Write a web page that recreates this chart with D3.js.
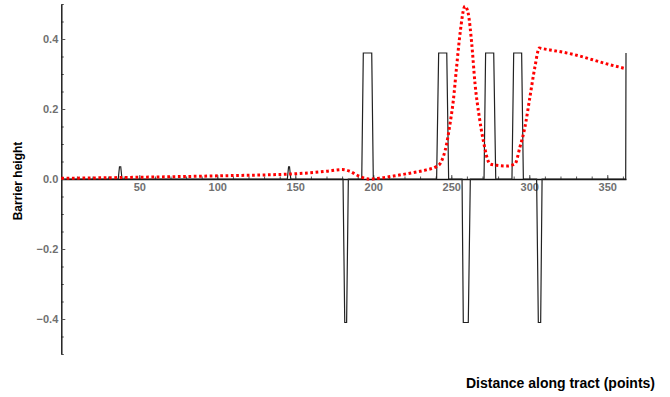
<!DOCTYPE html>
<html>
<head>
<meta charset="utf-8">
<script src="https://cdn.jsdelivr.net/npm/d3@7"></script>
<style>
  body { margin: 0; background: #fff; }
  .tick text { font-family: "Liberation Sans", Arial, sans-serif; font-weight: bold; font-size: 11px; fill: #707070; }
  .axis-title { font-family: "Liberation Sans", Arial, sans-serif; font-weight: bold; fill: #000; }
</style>
</head>
<body>
<div id="chart"></div>
<script>
// Barrier profile (black line): distance along tract, barrier height
const barrierX = [0, 36.5, 37.3, 38.1, 38.9,
  144.9, 145.7, 146.3, 147.1,
  180.6, 181.7, 182.9, 184,
  192.6, 193.6, 199, 200,
  240.6, 241.9, 247.1, 248.3,
  256.9, 257.7, 260.9, 262.2,
  271, 272, 277.2, 278.5,
  288.9, 290, 295.1, 296.2,
  304.7, 305.8, 307.3, 308.2,
  361.8, 362];
const barrierY = [0, 0, 0.035, 0.035, 0,
  0, 0.035, 0.035, 0,
  0, -0.41, -0.41, 0,
  0, 0.36, 0.36, 0,
  0, 0.36, 0.36, 0,
  0, -0.41, -0.41, 0,
  0, 0.36, 0.36, 0,
  0, 0.36, 0.36, 0,
  0, -0.41, -0.41, 0,
  0, 0.36];

// Smoothed fit (red dotted line)
const fitX = [0, 20, 50, 100, 150, 170, 180, 185, 190, 197, 205, 215, 225, 234, 240.6,
  243, 247, 249.2, 251.3, 253.4, 255.6, 258.8, 260.9, 263.1, 265.2, 268, 270.5,
  274.8, 279.1, 285.5, 290.8, 294, 297.2, 300.4, 303.6, 306.4, 309, 328.2, 349.6, 362];
const fitY = [0.002, 0.003, 0.005, 0.009, 0.015, 0.022, 0.027, 0.022, 0.01, 0.0, 0.003, 0.01, 0.018, 0.026, 0.036,
  0.045, 0.1, 0.158, 0.224, 0.32, 0.415, 0.494, 0.472, 0.387, 0.273, 0.176, 0.11,
  0.043, 0.039, 0.037, 0.043, 0.091, 0.148, 0.234, 0.32, 0.374, 0.372, 0.356, 0.329, 0.315];

// Tick values
const xTicks = [50, 100, 150, 200, 250, 300, 350];
const xMinorTicks = d3.range(0, 361, 10);
const yTicks = [-0.4, -0.2, 0, 0.2, 0.4];
const yMinorTicks = d3.range(-0.5, 0.51, 0.05);

const width = 670, height = 397;
const margin = { top: 4, right: 44, bottom: 43, left: 61.3 };
const innerW = width - margin.left - margin.right;
const innerH = height - margin.top - margin.bottom;

const svg = d3.select("#chart")
  .append("svg")
  .attr("width", width)
  .attr("height", height);

const g = svg.append("g")
  .attr("transform", `translate(${margin.left},${margin.top})`);

// Scales
const x = d3.scaleLinear().domain([0, 362]).range([0, innerW]);
const y = d3.scaleLinear().domain([-0.5, 0.5]).range([innerH, 0]);

const fmt = d => d === 0 ? "0.0" : d3.format(".1f")(d).replace("-", "\u2212");

// Minor ticks (inward)
g.append("g")
  .attr("transform", `translate(0,${y(0)})`)
  .call(d3.axisBottom(x).tickValues(xMinorTicks).tickSize(-2.5).tickFormat(""))
  .call(a => a.select(".domain").remove())
  .call(a => a.selectAll("line").attr("stroke", "#555"));

g.append("g")
  .call(d3.axisLeft(y).tickValues(yMinorTicks).tickSize(-2.5).tickFormat(""))
  .call(a => a.select(".domain").remove())
  .call(a => a.selectAll("line").attr("stroke", "#555"));

// X axis through zero
const xAxisG = g.append("g")
  .attr("transform", `translate(0,${y(0)})`)
  .call(d3.axisBottom(x).tickValues(xTicks).tickSizeInner(-4).tickSizeOuter(0).tickPadding(4).tickFormat(d3.format("d")));
xAxisG.select(".domain").attr("stroke", "#111").attr("stroke-width", 1.4);
xAxisG.selectAll(".tick line").attr("stroke", "#555");

// Y axis
const yAxisG = g.append("g")
  .call(d3.axisLeft(y).tickValues(yTicks).tickSizeInner(-4).tickSizeOuter(0).tickPadding(3).tickFormat(fmt));
yAxisG.select(".domain").attr("stroke", "#111").attr("stroke-width", 1.4);
yAxisG.selectAll(".tick line").attr("stroke", "#555");

// Barrier line
const barrier = barrierX.map((d, i) => [d, barrierY[i]]);
g.append("path")
  .datum(barrier)
  .attr("fill", "none")
  .attr("stroke", "#222")
  .attr("stroke-width", 1.2)
  .attr("d", d3.line().x(d => x(d[0])).y(d => y(d[1])));

// Fit line
const fit = fitX.map((d, i) => [d, fitY[i]]);
g.append("path")
  .datum(fit)
  .attr("fill", "none")
  .attr("stroke", "#ff0000")
  .attr("stroke-width", 3)
  .attr("stroke-dasharray", "2.7,2.6")
  .attr("d", d3.line().curve(d3.curveMonotoneX).x(d => x(d[0])).y(d => y(d[1])));

// Axis titles
svg.append("text")
  .attr("class", "axis-title")
  .attr("font-size", "12px")
  .attr("text-anchor", "middle")
  .attr("transform", `translate(22,${margin.top + innerH / 2 + 2}) rotate(-90)`)
  .text("Barrier height");

svg.append("text")
  .attr("class", "axis-title")
  .attr("font-size", "14px")
  .attr("text-anchor", "end")
  .attr("x", 655)
  .attr("y", 388)
  .text("Distance along tract (points)");
</script>
</body>
</html>
